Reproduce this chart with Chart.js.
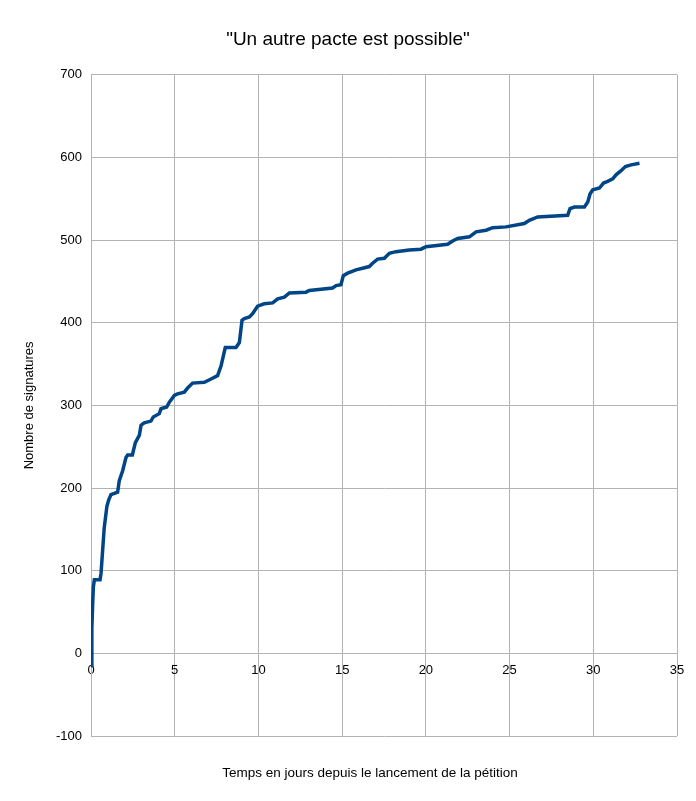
<!DOCTYPE html>
<html>
<head>
<meta charset="utf-8">
<script src="https://cdn.jsdelivr.net/npm/chart.js@4"></script>
<style>
  html, body { margin: 0; padding: 0; background: #fff; }
  #wrap { width: 696px; height: 801px; }
</style>
</head>
<body>
<div id="wrap"><canvas id="chart" width="696" height="801"></canvas></div>
<script>
// signatures over time (days since launch)
const days = [
  0.00, 0.05, 0.10, 0.14, 0.20, 0.54, 0.60, 0.79, 0.95, 1.05,
  1.19, 1.59, 1.69, 1.89, 2.09, 2.19, 2.47, 2.65, 2.89, 2.99,
  3.18, 3.58, 3.72, 4.08, 4.18, 4.52, 4.68, 4.98, 5.17, 5.57,
  5.77, 6.07, 6.77, 7.17, 7.56, 7.77, 8.02, 8.66, 8.86, 9.02,
  9.16, 9.46, 9.65, 9.95, 10.35, 10.85, 11.15, 11.55, 11.85, 12.84,
  13.04, 14.43, 14.64, 14.93, 15.07, 15.33, 15.83, 16.22, 16.62, 16.82,
  17.12, 17.52, 17.82, 18.22, 19.01, 19.71, 20.01, 21.30, 21.60, 21.90,
  22.60, 23.00, 23.60, 23.99, 24.79, 25.88, 26.18, 26.68, 28.47, 28.61,
  28.87, 29.47, 29.67, 29.81, 29.97, 30.37, 30.61, 30.86, 31.16, 31.36,
  31.66, 31.92, 32.26, 32.76
];
const signatures = [
  -15, 30, 60, 80, 89, 89, 97, 152, 178, 185,
  192, 195, 209, 221, 237, 240, 240, 255, 264, 276,
  279, 281, 286, 290, 296, 298, 304, 312, 314, 316,
  321, 327, 328, 332, 336, 348, 370, 370, 376, 403,
  405, 407, 411, 420, 423, 424, 429, 431, 436, 437,
  439, 442, 445, 446, 457, 460, 464, 466, 468, 472,
  477, 478, 484, 486, 488, 489, 492, 495, 499, 502,
  504, 510, 512, 515, 516, 520, 524, 528, 530, 538,
  540, 540, 546, 556, 561, 563, 569, 571, 574, 579,
  584, 589, 591, 593
];
const xTicks = [0, 5, 10, 15, 20, 25, 30, 35];
const yTicks = [-100, 0, 100, 200, 300, 400, 500, 600, 700];

const chartTitle = '"Un autre pacte est possible"';
const xTitle = "Temps en jours depuis le lancement de la pétition";
const yTitle = "Nombre de signatures";

const FONT = "'Liberation Sans', Arial, sans-serif";
const GRID = "#b3b3b3";

// x axis title is drawn by hand since the x axis sits on y = 0
const xTitlePlugin = {
  id: "xTitle",
  afterDraw(chart) {
    const ctx = chart.ctx;
    ctx.save();
    ctx.font = "13.5px " + FONT;
    ctx.fillStyle = "#000";
    ctx.textAlign = "center";
    ctx.textBaseline = "middle";
    ctx.fillText(xTitle, 370, 773);
    ctx.restore();
  },
};

new Chart(document.getElementById("chart"), {
  type: "scatter",
  data: {
    datasets: [
      {
        data: days.map((d, i) => ({ x: d, y: signatures[i] })),
        showLine: true,
        borderColor: "#004586",
        backgroundColor: "#004586",
        borderWidth: 3.5,
        pointRadius: 0,
        tension: 0,
      },
    ],
  },
  options: {
    responsive: false,
    animation: false,
    layout: { padding: { left: 19, right: 19, top: 0, bottom: 65 } },
    plugins: {
      legend: { display: false },
      tooltip: { enabled: false },
      title: {
        display: true,
        text: chartTitle,
        color: "#000",
        font: { family: FONT, size: 19, weight: "normal" },
        padding: { top: 28, bottom: 24 },
      },
    },
    scales: {
      x: {
        type: "linear",
        position: { y: 0 },
        min: 0,
        max: 35,
        afterBuildTicks: (s) => { s.ticks = xTicks.map((v) => ({ value: v })); },
        grid: { color: GRID, drawTicks: false },
        border: { color: GRID },
        ticks: {
          color: "#000",
          padding: 9,
          font: { family: FONT, size: 13 },
          maxRotation: 0,
        },
      },
      y: {
        type: "linear",
        min: -100,
        max: 700,
        afterBuildTicks: (s) => { s.ticks = yTicks.map((v) => ({ value: v })); },
        afterFit: (s) => { s.width = 72; },
        grid: { color: GRID, drawTicks: false },
        border: { color: GRID },
        ticks: {
          color: "#000",
          padding: 9,
          font: { family: FONT, size: 13 },
        },
        title: {
          display: true,
          text: yTitle,
          color: "#000",
          font: { family: FONT, size: 13 },
          padding: { top: 3, bottom: 0 },
        },
      },
    },
  },
  plugins: [xTitlePlugin],
});
</script>
</body>
</html>
